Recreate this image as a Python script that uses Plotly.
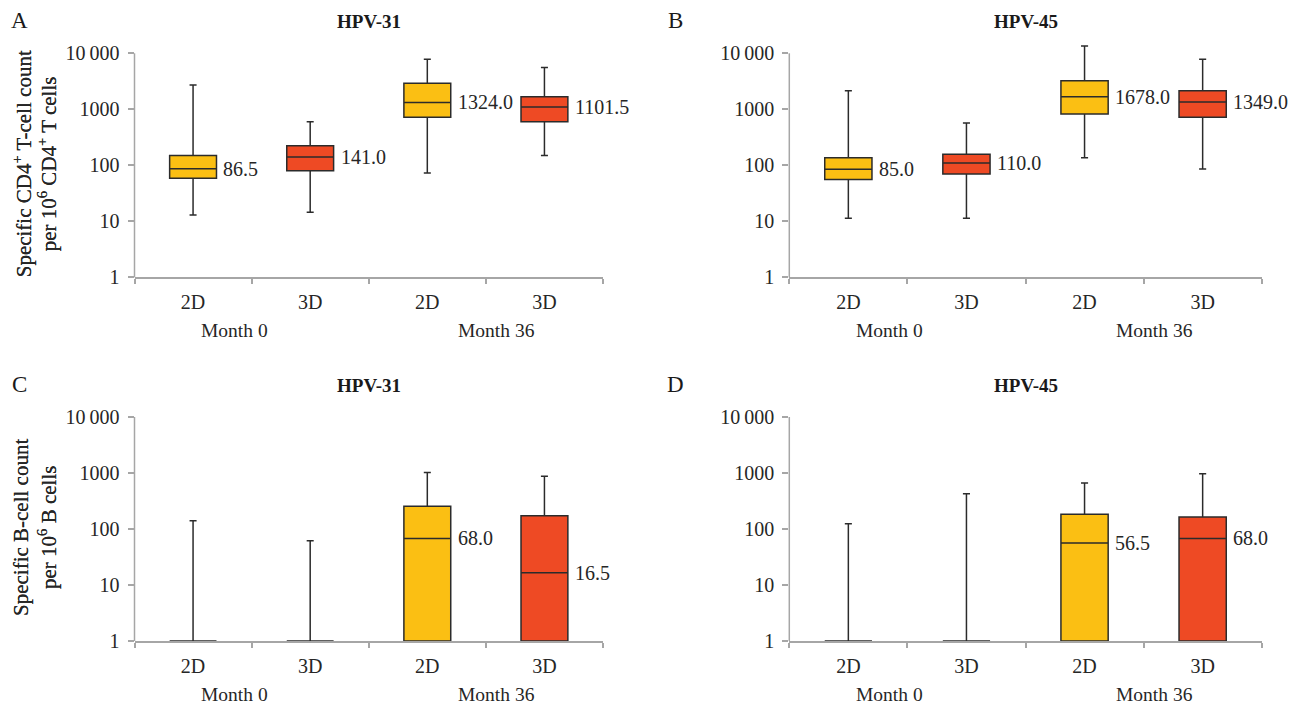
import numpy as np
import plotly.graph_objects as go

W, H = 1297, 709

# ---------------- data ----------------
tick_labels = ["2D", "3D", "2D", "3D"]
month_labels = ["Month 0", "Month 36"]
panel_letters = ["A", "B", "C", "D"]
panel_titles = ["HPV-31", "HPV-45", "HPV-31", "HPV-45"]
ytick_vals = [1, 10, 100, 1000, 10000]
ytick_text = ["1", "10", "100", "1000", "10\u2009000"]

A_lower = [13, 14.5, 73, 149]
A_q1 = [58.6, 80, 720, 602]
A_median = [86.5, 141.0, 1324.0, 1101.5]
A_q3 = [149, 224, 2912, 1683]
A_upper = [2718, 602, 7812, 5550]

B_lower = [11.3, 11.3, 137, 86]
B_q1 = [56, 70, 826, 721]
B_median = [85.0, 110.0, 1678.0, 1349.0]
B_q3 = [137, 157, 3228, 2143]
B_upper = [2143, 572, 13490, 7820]

C_lower = [1, 1, 1, 1]
C_q1 = [1, 1, 1, 1]
C_median = [1, 1, 68.0, 16.5]
C_q3 = [1, 1, 255, 172]
C_upper = [140, 61.5, 1017, 875]

D_lower = [1, 1, 1, 1]
D_q1 = [1, 1, 1, 1]
D_median = [1, 1, 56.5, 68.0]
D_q3 = [1, 1, 183, 164]
D_upper = [124, 427, 663, 973]

show_label_T = [True, True, True, True]
show_label_B = [False, False, True, True]

colors = ["#FBBF13", "#EE4A24", "#FBBF13", "#EE4A24"]

ytitle_T = ["Specific CD4<sup>+</sup> T-cell count", "per 10<sup>6</sup> CD4<sup>+</sup> T cells"]
ytitle_B = ["Specific B-cell count", "per 10<sup>6</sup> B cells"]

panels = [
    (A_lower, A_q1, A_median, A_q3, A_upper, show_label_T, ytitle_T),
    (B_lower, B_q1, B_median, B_q3, B_upper, show_label_T, ytitle_T),
    (C_lower, C_q1, C_median, C_q3, C_upper, show_label_B, ytitle_B),
    (D_lower, D_q1, D_median, D_q3, D_upper, show_label_B, ytitle_B),
]

# ---------------- layout geometry (pixels) ----------------
FONT = "Liberation Serif"
TXT = "#262626"
AX = "#A6A6A6"
x_dom_px = [(134.5, 603), (789.3, 1261.7), (134.5, 603), (789.3, 1261.7)]
# (pixel of y=1, pixel of y=10000)
y_px = [(277.3, 53.3), (277.3, 53.3), (641, 417), (641, 417)]
letter_px = [(19, 21), (675, 21), (19, 384), (675, 384)]
title_y_px = [22, 22, 385, 385]
ytitle_x_px = [(22, 47), (22, 47), (21, 47), (21, 47)]
month_x = [0.35, 2.59]
YTOP = 4.18

fig = go.Figure()
annotations = []
shapes = []

for k, (lo, q1, med, q3, up, show, ytitle) in enumerate(panels):
    ax_id = "" if k == 0 else str(k + 1)
    xa, ya = "x" + ax_id, "y" + ax_id
    x0p, x1p = x_dom_px[k]
    y1p, y4p = y_px[k]
    dec = (y1p - y4p) / 4.0
    ytop_px = y1p - YTOP * dec
    for i in range(4):
        fig.add_trace(go.Box(
            x=[i], q1=[q1[i]], median=[med[i]], q3=[q3[i]],
            lowerfence=[lo[i]], upperfence=[up[i]],
            width=0.40, whiskerwidth=0.15,
            fillcolor=colors[i], line=dict(color="#2b2b2b", width=1.5),
            boxpoints=False, showlegend=False, hoverinfo="skip",
            xaxis=xa, yaxis=ya,
        ))
        if show[i]:
            annotations.append(dict(
                x=i + 0.2, y=np.log10(med[i]), xref=xa, yref=ya,
                text=f"{med[i]:.1f}", showarrow=False, xanchor="left",
                yanchor="middle", xshift=5,
                font=dict(family=FONT, size=20, color=TXT),
            ))
    layout_x = dict(
        domain=[x0p / W, x1p / W], range=[-0.5, 3.5], anchor=ya,
        automargin=False,
        tickmode="array", tickvals=[0, 1, 2, 3], ticktext=tick_labels,
        ticks="outside", ticklen=6, tickcolor="rgba(0,0,0,0)",
        showline=True, linecolor=AX, linewidth=1.5, showgrid=False,
        zeroline=False, fixedrange=True,
        tickfont=dict(family=FONT, size=20, color=TXT),
        minor=dict(tickvals=[-0.5, 0.5, 1.5, 2.5, 3.5], ticks="outside",
                   ticklen=5, tickcolor=AX, tickwidth=1.5, showgrid=False),
    )
    layout_y = dict(
        domain=[1 - y1p / H, 1 - ytop_px / H], type="log", range=[0, YTOP],
        anchor=xa, automargin=False,
        tickmode="array", tickvals=ytick_vals, ticktext=ytick_text,
        ticks="outside", ticklen=6, tickcolor=AX, tickwidth=1.5,
        ticklabelstandoff=4,
        showline=False, showgrid=False, zeroline=False, fixedrange=True,
        tickfont=dict(family=FONT, size=20, color=TXT),
    )
    fig.update_layout(**{"xaxis" + ax_id: layout_x, "yaxis" + ax_id: layout_y})
    # y axis line from 1 to 10000
    shapes.append(dict(type="line", xref=xa + " domain", yref=ya + " domain",
                       x0=0, x1=0, y0=0, y1=4 / YTOP,
                       line=dict(color=AX, width=1.5), layer="above"))
    # month labels
    for m, xm in zip(month_labels, month_x):
        annotations.append(dict(
            x=xm, xref=xa, y=1 - (y1p + 53) / H, yref="paper",
            text=m, showarrow=False, xanchor="center", yanchor="middle",
            font=dict(family=FONT, size=19.5, color=TXT)))
    # y axis title (two lines)
    for line_txt, lxp in zip(ytitle, ytitle_x_px[k]):
        annotations.append(dict(
            x=lxp / W, y=1 - ((y1p + y4p) / 2 - 1) / H, xref="paper", yref="paper",
            text=line_txt, textangle=-90, showarrow=False,
            xanchor="center", yanchor="middle",
            font=dict(family=FONT, size=21, color=TXT)))
    # panel title
    annotations.append(dict(
        x=(x0p + x1p) / 2 / W, y=1 - title_y_px[k] / H, xref="paper", yref="paper",
        text="<b>" + panel_titles[k] + "</b>", showarrow=False,
        xanchor="center", yanchor="middle",
        font=dict(family=FONT, size=19, color="#1a1a1a")))
    # panel letter
    lx, ly = letter_px[k]
    annotations.append(dict(
        x=lx / W, y=1 - ly / H, xref="paper", yref="paper",
        text=panel_letters[k], showarrow=False,
        xanchor="center", yanchor="middle",
        font=dict(family=FONT, size=23, color="#1a1a1a")))

fig.update_layout(
    width=W, height=H, margin=dict(l=0, r=0, t=0, b=0, autoexpand=False),
    paper_bgcolor="white", plot_bgcolor="white",
    annotations=annotations, shapes=shapes, showlegend=False,
)

fig.write_html(
    "out.html",
    config={"displayModeBar": False},
    post_script="document.body.style.margin='0px';document.body.style.padding='0px';document.body.style.overflow='hidden';",
)
